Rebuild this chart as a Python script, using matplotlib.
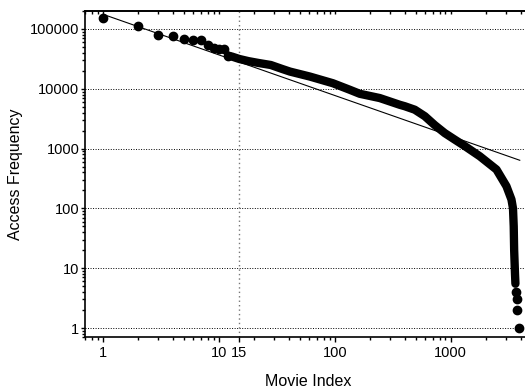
import matplotlib
matplotlib.use('Agg')
import matplotlib.pyplot as plt
from matplotlib.ticker import FixedLocator, FixedFormatter, LogLocator, NullFormatter

plt.rcParams['font.family'] = ['Liberation Sans', 'DejaVu Sans']

# most popular movies, shown as single points
head_idx = [1, 2, 3, 4, 5, 6, 7, 8, 9, 10, 11, 12]
head_freq = [151000, 113500, 80400, 75500, 67300, 66400, 66400, 54100, 49000, 47000, 45800, 35900]

# dense middle part of the ranking (points overlap into a thick band)
body_idx = [12, 13, 15, 18, 22, 28, 35, 41, 61, 96, 135, 164, 244, 363, 401, 489,
            597, 728, 888, 1082, 1321, 1778, 2477, 3020, 3336, 3440, 3490, 3520,
            3580, 3610]
body_freq = [35900, 34500, 31500, 29000, 27000, 25000, 21500, 19400, 16000, 12400, 9600,
             8250, 7000, 5400, 5110, 4470, 3480, 2465, 1813, 1413, 1101, 745, 447, 235,
             141, 100, 50, 20, 8, 5.5]

# least popular movies
tail_idx = [3650, 3700, 3760, 3860]
tail_freq = [4, 3, 2, 1]

# power-law fit, end points
fit_idx = [1, 3935]
fit_freq = [176000, 638]

xtick_vals = [1, 10, 15, 100, 1000]
xtick_labels = ['1', '10', '15', '100', '1000']
ytick_vals = [1, 10, 100, 1000, 10000, 100000]
ytick_labels = ['1', '10', '100', '1000', '10000', '100000']

fig = plt.figure(figsize=(5.25, 3.88), dpi=100)
ax = fig.add_axes([0.162, 0.1307, 0.851, 0.841])
ax.set_xscale('log')
ax.set_yscale('log')
ax.set_xlim(0.7, 5000)
ax.set_ylim(0.7, 2e5)

for y in ytick_vals:
    ax.axhline(y, color='black', lw=0.7, ls=(0, (1, 1.6)), zorder=1)
ax.axvline(15, color='#777777', lw=1.0, ls=(0, (1, 2.2)), zorder=1)

ax.plot(fit_idx, fit_freq, color='black', lw=0.8, zorder=3)
ax.plot(body_idx, body_freq, color='black', lw=6.0, solid_capstyle='round',
        solid_joinstyle='round', zorder=2)
ax.plot(head_idx, head_freq, 'o', color='black', ms=6, zorder=2)
ax.plot(tail_idx, tail_freq, 'o', color='black', ms=6, zorder=2)

ax.xaxis.set_major_locator(FixedLocator(xtick_vals))
ax.xaxis.set_major_formatter(FixedFormatter(xtick_labels))
ax.xaxis.set_minor_locator(LogLocator(base=10, subs=range(2, 10), numticks=20))
ax.xaxis.set_minor_formatter(NullFormatter())
ax.yaxis.set_major_locator(FixedLocator(ytick_vals))
ax.yaxis.set_major_formatter(FixedFormatter(ytick_labels))
ax.yaxis.set_minor_locator(LogLocator(base=10, subs=range(2, 10), numticks=20))
ax.yaxis.set_minor_formatter(NullFormatter())

ax.tick_params(axis='both', which='major', direction='out', length=3.5, width=1,
               labelsize=10.5, pad=2)
ax.tick_params(axis='both', which='minor', direction='out', length=2, width=1)
ax.tick_params(axis='x', which='major', pad=3)
ax.tick_params(axis='y', which='major', length=3, pad=1)
# no tick mark under the 15 label
for t in ax.xaxis.get_major_ticks():
    if t.get_loc() == 15:
        t.tick1line.set_visible(False)

# short inward ticks along the top edge
top = ax.secondary_xaxis('top')
top.xaxis.set_major_locator(FixedLocator([1, 10, 100, 1000]))
top.xaxis.set_minor_locator(LogLocator(base=10, subs=range(2, 10), numticks=20))
top.xaxis.set_major_formatter(NullFormatter())
top.xaxis.set_minor_formatter(NullFormatter())
top.tick_params(which='both', direction='in', length=2.5, width=1)
top.spines['top'].set_linewidth(1.2)

for s in ax.spines.values():
    s.set_linewidth(1.2)

ax.set_xlabel('Movie Index', fontsize=11.5, labelpad=10)
ax.set_ylabel('Access Frequency', fontsize=11.5, labelpad=5)

plt.savefig('out.png', dpi=100)
